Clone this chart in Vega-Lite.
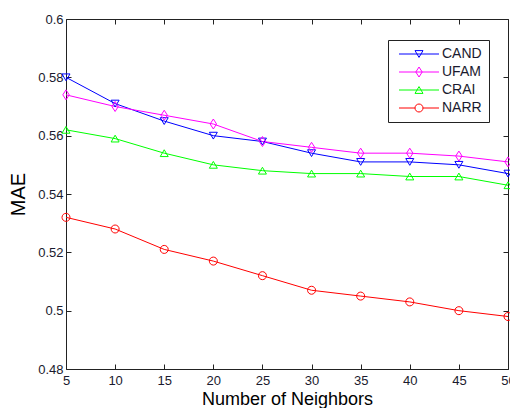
{
  "$schema": "https://vega.github.io/schema/vega-lite/v6.json",
  "width": 442,
  "height": 350,
  "autosize": "none",
  "padding": {"left": 66, "top": 19, "right": 2, "bottom": 39},
  "background": "white",
  "config": {
    "font": "Liberation Sans",
    "view": {"stroke": "#222", "strokeWidth": 1},
    "axis": {
      "grid": false,
      "domain": false,
      "tickColor": "#222",
      "tickSize": -5,
      "labelFont": "Liberation Sans",
      "labelFontSize": 13,
      "labelColor": "#1a1a2e",
      "titleFont": "Liberation Sans",
      "titleFontWeight": "normal",
      "titleColor": "#000"
    },
    "legend": {
      "orient": "none",
      "legendX": 322,
      "legendY": 21,
      "direction": "vertical",
      "padding": 7,
      "strokeColor": "#222",
      "fillColor": "white",
      "symbolSize": 64,
      "symbolStrokeWidth": 1,
      "symbolOpacity": 1,
      "symbolOffset": 17,
      "labelOffset": 16,
      "labelFont": "Liberation Sans",
      "labelFontSize": 14,
      "labelColor": "#1a1a2e",
      "rowPadding": 4
    }
  },
  "data": {
    "values": [
      {"k": 5, "series": "CAND", "mae": 0.580},
      {"k": 10, "series": "CAND", "mae": 0.571},
      {"k": 15, "series": "CAND", "mae": 0.565},
      {"k": 20, "series": "CAND", "mae": 0.560},
      {"k": 25, "series": "CAND", "mae": 0.558},
      {"k": 30, "series": "CAND", "mae": 0.554},
      {"k": 35, "series": "CAND", "mae": 0.551},
      {"k": 40, "series": "CAND", "mae": 0.551},
      {"k": 45, "series": "CAND", "mae": 0.550},
      {"k": 50, "series": "CAND", "mae": 0.547},
      {"k": 5, "series": "UFAM", "mae": 0.574},
      {"k": 10, "series": "UFAM", "mae": 0.570},
      {"k": 15, "series": "UFAM", "mae": 0.567},
      {"k": 20, "series": "UFAM", "mae": 0.564},
      {"k": 25, "series": "UFAM", "mae": 0.558},
      {"k": 30, "series": "UFAM", "mae": 0.556},
      {"k": 35, "series": "UFAM", "mae": 0.554},
      {"k": 40, "series": "UFAM", "mae": 0.554},
      {"k": 45, "series": "UFAM", "mae": 0.553},
      {"k": 50, "series": "UFAM", "mae": 0.551},
      {"k": 5, "series": "CRAI", "mae": 0.562},
      {"k": 10, "series": "CRAI", "mae": 0.559},
      {"k": 15, "series": "CRAI", "mae": 0.554},
      {"k": 20, "series": "CRAI", "mae": 0.550},
      {"k": 25, "series": "CRAI", "mae": 0.548},
      {"k": 30, "series": "CRAI", "mae": 0.547},
      {"k": 35, "series": "CRAI", "mae": 0.547},
      {"k": 40, "series": "CRAI", "mae": 0.546},
      {"k": 45, "series": "CRAI", "mae": 0.546},
      {"k": 50, "series": "CRAI", "mae": 0.543},
      {"k": 5, "series": "NARR", "mae": 0.532},
      {"k": 10, "series": "NARR", "mae": 0.528},
      {"k": 15, "series": "NARR", "mae": 0.521},
      {"k": 20, "series": "NARR", "mae": 0.517},
      {"k": 25, "series": "NARR", "mae": 0.512},
      {"k": 30, "series": "NARR", "mae": 0.507},
      {"k": 35, "series": "NARR", "mae": 0.505},
      {"k": 40, "series": "NARR", "mae": 0.503},
      {"k": 45, "series": "NARR", "mae": 0.500},
      {"k": 50, "series": "NARR", "mae": 0.498}
    ]
  },
  "layer": [
    {
      "mark": {"type": "line", "strokeWidth": 1},
      "encoding": {
        "x": {
          "field": "k", "type": "quantitative",
          "scale": {"domain": [5, 50], "nice": false, "zero": false},
          "axis": {"orient": "bottom", "values": [5,10,15,20,25,30,35,40,45,50], "labelFlush": false, "labelOverlap": false, "labelPadding": 10, "title": "Number of Neighbors", "titleFontSize": 18, "titlePadding": 3}
        },
        "y": {
          "field": "mae", "type": "quantitative",
          "scale": {"domain": [0.48, 0.6], "nice": false, "zero": false},
          "axis": {"orient": "left", "values": [0.48,0.5,0.52,0.54,0.56,0.58,0.6], "format": "~g", "labelFlush": false, "labelOverlap": false, "labelPadding": 8, "title": "MAE", "titleFontSize": 20, "titlePadding": 9}
        },
        "color": {
          "field": "series", "type": "nominal",
          "scale": {"domain": ["CAND","UFAM","CRAI","NARR"], "range": ["#0000ff","#ff00ff","#00ff00","#ff0000"]},
          "legend": null
        },
        "order": {"field": "k"}
      }
    },
    {
      "mark": {"type": "point", "filled": false, "strokeWidth": 1, "size": 64, "opacity": 1},
      "encoding": {
        "x": {"field": "k", "type": "quantitative", "axis": null},
        "y": {"field": "mae", "type": "quantitative", "axis": null},
        "color": {"field": "series", "type": "nominal", "legend": null},
        "shape": {
          "field": "series", "type": "nominal",
          "scale": {"domain": ["CAND","UFAM","CRAI","NARR"], "range": [
            "M-1,-0.85L1,-0.85L0,0.85Z",
            "M0,-1.25L0.8,0L0,1.25L-0.8,0Z",
            "M-1,0.85L1,0.85L0,-0.85Z",
            "M1,0A1,1,0,1,1,-1,0A1,1,0,1,1,1,0Z"
          ]},
          "legend": null
        }
      }
    },
    {
      "mark": {"type": "point", "filled": false, "strokeWidth": 1, "size": 64, "opacity": 0},
      "encoding": {
        "x": {"field": "k", "type": "quantitative",
          "axis": {"orient": "top", "values": [5,10,15,20,25,30,35,40,45,50], "labels": false, "title": null}},
        "y": {"field": "mae", "type": "quantitative",
          "axis": {"orient": "right", "values": [0.48,0.5,0.52,0.54,0.56,0.58,0.6], "labels": false, "title": null}},
        "stroke": {"field": "series", "type": "nominal",
          "scale": {"domain": ["CAND","UFAM","CRAI","NARR"], "range": ["#0000ff","#ff00ff","#00ff00","#ff0000"]},
          "legend": {"title": null}},
        "shape": {
          "field": "series", "type": "nominal",
          "scale": {"domain": ["CAND","UFAM","CRAI","NARR"], "range": [
            "M-5,0H5M-1,-0.85L1,-0.85L0,0.85Z",
            "M-5,0H5M0,-1.25L0.8,0L0,1.25L-0.8,0Z",
            "M-5,0H5M-1,0.85L1,0.85L0,-0.85Z",
            "M-5,0H-1M1,0H5M1,0A1,1,0,1,1,-1,0A1,1,0,1,1,1,0Z"
          ]},
          "legend": {"title": null}
        }
      }
    }
  ],
  "resolve": {
    "axis": {"x": "independent", "y": "independent"},
    "scale": {"shape": "independent", "stroke": "independent"},
    "legend": {"shape": "independent", "stroke": "independent"}
  }
}
